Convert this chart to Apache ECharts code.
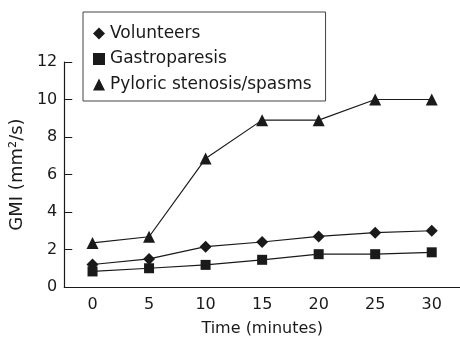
<!DOCTYPE html>
<html>
<head>
<meta charset="utf-8">
<script src="https://cdn.jsdelivr.net/npm/echarts@6/dist/echarts.min.js"></script>
<style>
  html, body { margin: 0; padding: 0; background: #fff; }
  #chart { width: 460px; height: 342px; }
</style>
</head>
<body>
<div id="chart"></div>
<script>
// time points (minutes)
const times = ["0", "5", "10", "15", "20", "25", "30"];

// GMI values
const volunteers = [1.2, 1.5, 2.15, 2.4, 2.7, 2.9, 3.0];
const gastroparesis = [0.83, 1.0, 1.18, 1.45, 1.75, 1.75, 1.85];
const pyloric = [2.35, 2.68, 6.85, 8.9, 8.9, 10, 10];

const ink = "#1a1a1a";
const font = "DejaVu Sans";

const mkSeries = (name, data, symbol, size) => ({
  name,
  type: "line",
  data,
  symbol,
  symbolSize: size,
  showAllSymbol: true,
  lineStyle: { color: ink, width: 1.2 },
  itemStyle: { color: ink },
  emphasis: { disabled: true },
  animation: false,
});

const chart = echarts.init(document.getElementById("chart"));
chart.setOption({
  animation: false,
  grid: { left: 64, right: 0, top: 62, bottom: 52 },
  legend: {
    orient: "vertical",
    left: 83,
    top: 12,
    backgroundColor: "#fff",
    borderColor: "#444",
    borderWidth: 1,
    padding: [13, 14, 8, 10],
    itemWidth: 12,
    itemHeight: 12,
    itemGap: 8.5,
    itemTextGap: 7,
    textStyle: { color: ink, fontFamily: font, fontSize: 17, lineHeight: 17 },
    data: [
      { name: "Volunteers", icon: "diamond" },
      { name: "Gastroparesis", icon: "rect" },
      { name: "Pyloric stenosis/spasms", icon: "triangle" },
    ],
  },
  xAxis: {
    type: "category",
    data: times,
    name: "Time (minutes)",
    nameLocation: "middle",
    nameGap: 34,
    nameTextStyle: { color: ink, fontFamily: font, fontSize: 16 },
    axisLine: { lineStyle: { color: ink, width: 1.2 } },
    axisTick: { inside: true, length: 8, lineStyle: { color: ink } },
    axisLabel: { color: ink, fontFamily: font, fontSize: 16, margin: 10 },
    splitLine: { show: false },
  },
  yAxis: {
    type: "value",
    min: 0,
    max: 12,
    interval: 2,
    name: "GMI (mm²/s)",
    nameLocation: "middle",
    nameGap: 27,
    nameTextStyle: { color: ink, fontFamily: font, fontSize: 18 },
    axisLine: { show: true, lineStyle: { color: ink, width: 1.2 } },
    axisTick: { show: true, inside: true, length: 8, lineStyle: { color: ink } },
    axisLabel: { color: ink, fontFamily: font, fontSize: 16, margin: 7 },
    splitLine: { show: false },
  },
  series: [
    mkSeries("Volunteers", volunteers, "diamond", 12),
    mkSeries("Gastroparesis", gastroparesis, "rect", 10),
    mkSeries("Pyloric stenosis/spasms", pyloric, "triangle", 12),
  ],
});
</script>
</body>
</html>
